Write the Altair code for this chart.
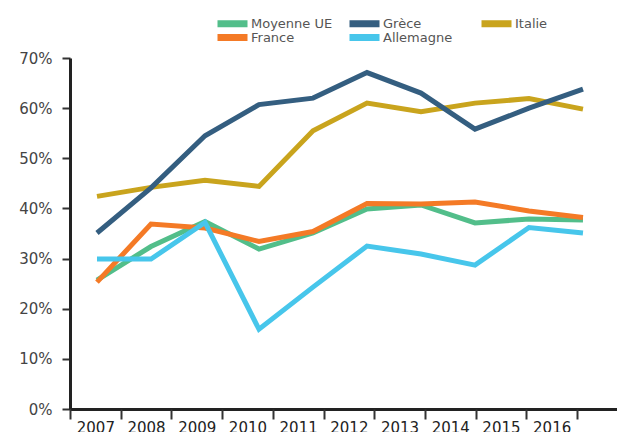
import altair as alt
import pandas as pd

years = [2007, 2008, 2009, 2010, 2011, 2012, 2013, 2014, 2015, 2016]
series_order = ["Moyenne UE", "France", "Grèce", "Allemagne", "Italie"]
colors = ["#52BE8A", "#F47A26", "#345E80", "#47C6EB", "#C9A41D"]

moyenne_ue = [25.7, 32.4, 37.4, 31.9, 35.1, 39.9, 40.7, 37.1, 37.9, 37.7]
france = [25.3, 36.9, 36.1, 33.4, 35.4, 41.0, 40.9, 41.3, 39.5, 38.2]
italie = [42.4, 44.2, 45.6, 44.4, 55.5, 61.0, 59.3, 61.0, 61.9, 59.8]
grece = [35.1, 44.1, 54.5, 60.7, 62.0, 67.1, 63.0, 55.8, 60.0, 63.8]
allemagne = [29.9, 29.9, 37.2, 15.9, 24.3, 32.5, 30.9, 28.7, 36.2, 35.1]

y_ticks = [0, 10, 20, 30, 40, 50, 60, 70]

draw_order = [("Moyenne UE", moyenne_ue), ("France", france), ("Italie", italie),
              ("Grèce", grece), ("Allemagne", allemagne)]
rows = []
for name, vals in draw_order:
    for yr, v in zip(years, vals):
        rows.append({"year": yr, "series": name, "value": v})
df = pd.DataFrame(rows)
df_years = pd.DataFrame({"year": years})

FONT = "DejaVu Sans"

# legend swatch: a 30x7 bar drawn as stacked thin strokes (keeps legend rows compact)
swatch = "".join(f"M0,{y}L30,{y}" for y in (-3, -2, -1, 0, 1, 2, 3))

lines = alt.Chart(df).mark_line(strokeWidth=5, strokeCap="butt", strokeJoin="miter").encode(
    x=alt.X("year:Q", scale=alt.Scale(domain=[2006.5, 2016.63], nice=False, zero=False), axis=None),
    y=alt.Y("value:Q",
            scale=alt.Scale(domain=[0, 70], nice=False),
            axis=alt.Axis(values=y_ticks, labelExpr="datum.value + '%'", title=None,
                          tickSize=8, tickWidth=2, tickColor="#333",
                          domainColor="#222", domainWidth=3,
                          labelFontSize=15, labelColor="#444", labelFont=FONT,
                          labelPadding=10,
                          grid=True, gridColor="#222", gridWidth=3,
                          gridOpacity={"condition": {"test": "datum.value === 0", "value": 1}, "value": 0})),
    color=alt.Color("series:N", scale=alt.Scale(domain=series_order, range=colors),
                    legend=alt.Legend(title=None, orient="none", legendX=141, legendY=-41,
                                      columns=3, gridAlign="all", columnPadding=10, rowPadding=0,
                                      symbolType=swatch, symbolSize=4, symbolStrokeWidth=1.2,
                                      labelFontSize=13, labelColor="#555", labelFont=FONT,
                                      labelOffset=27)),
    detail="series:N",
)

year_axis = alt.Chart(df_years).mark_point(opacity=0).encode(
    x=alt.X("year:O",
            scale=alt.Scale(type="band", range=[0, 507], paddingInner=0, paddingOuter=0),
            axis=alt.Axis(title=None, domain=False, tickBand="extent", tickSize=10, tickWidth=2,
                          tickColor="#333", labelFontSize=15, labelColor="#222", labelFont=FONT,
                          labelPadding=1, labelAngle=0)),
)

chart = alt.layer(year_axis, lines).resolve_scale(x="independent").properties(
    width=547, height=351,
    autosize=alt.AutoSizeParams(type="none"),
    padding={"left": 70, "top": 58, "right": 0, "bottom": 23},
).configure_view(stroke=None)

chart.save("out.html", embed_options={"renderer": "svg", "actions": False})
